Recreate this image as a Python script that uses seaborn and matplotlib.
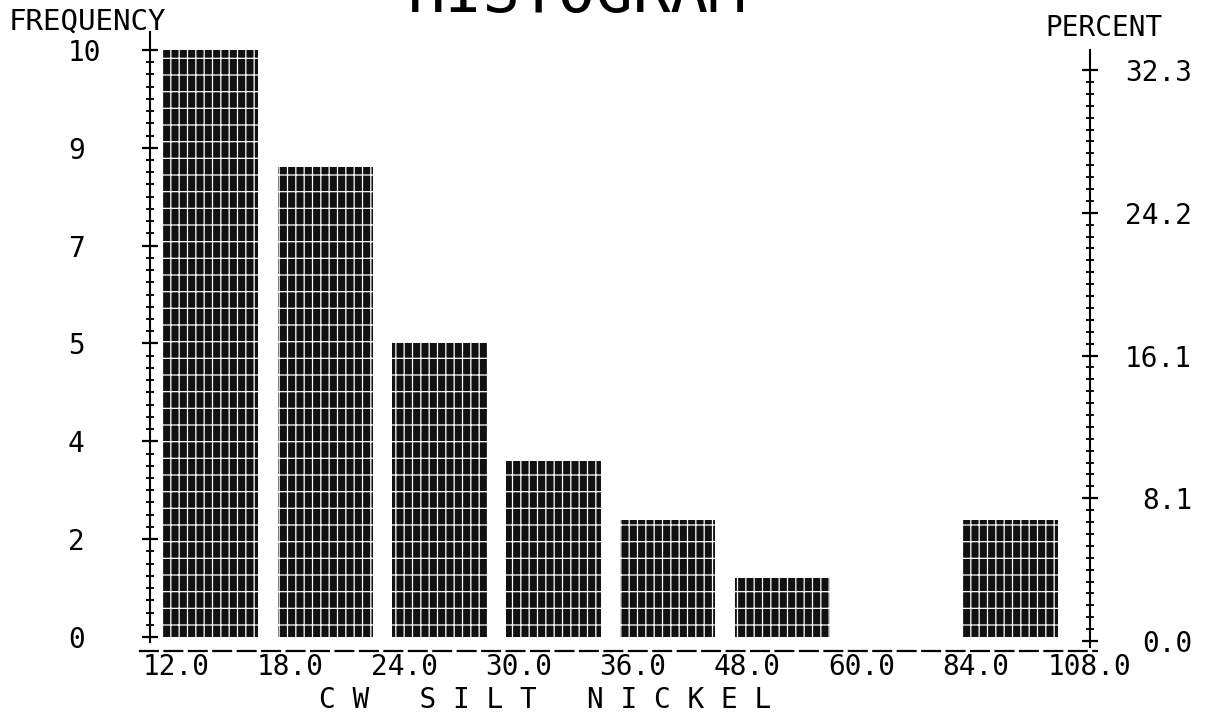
import numpy as np
import matplotlib.pyplot as plt
import seaborn as sns

# histogram of CW silt nickel
bin_edges = ['12.0', '18.0', '24.0', '30.0', '36.0', '48.0', '60.0', '84.0', '108.0']
bin_names = ['12-18', '18-24', '24-30', '30-36', '36-48', '48-60', '60-84', '84-108']
counts = [10, 8, 5, 3, 2, 1, 0, 2]
freq_tick_labels = ['0', '2', '4', '5', '7', '9', '10']
pct_tick_labels = ['0.0', '8.1', '16.1', '24.2', '32.3']

sns.set_style('white')
plt.rcParams['font.family'] = ['DejaVu Sans Mono']
plt.rcParams['text.color'] = 'black'
plt.rcParams['xtick.color'] = 'black'
plt.rcParams['ytick.color'] = 'black'
plt.rcParams['hatch.color'] = 'white'
plt.rcParams['hatch.linewidth'] = 0.9

W, H = 1210, 717
fig = plt.figure(figsize=(W / 100, H / 100), dpi=100)
ax = fig.add_axes([150 / W, 1 - 651 / H, 940 / W, 621 / H])

sns.barplot(
    x=bin_names,
    y=counts,
    order=bin_names,
    color='#111111',
    saturation=1,
    width=0.83,
    edgecolor='white',
    linewidth=0,
    hatch='-||',
    ax=ax
)

# plotter puts the bin edge label a bit right of the bar's left side
off = 0.305
ax.set_xlim(-off - 0.228, len(bin_names) - off)
ax.set_ylim(-0.2385, 10.34)
ax.set_xticks(np.arange(len(bin_edges)) - off, bin_edges)
ax.tick_params(axis='x', length=0, pad=1.5, labelsize=20)
ax.set_xlabel('')
ax.set_ylabel('')

ax.set_yticks(np.linspace(0, max(counts), len(freq_tick_labels)), freq_tick_labels)
ax.set_yticks(np.linspace(0, max(counts), 49), minor=True)
ax.tick_params(axis='y', which='major', left=True, direction='inout',
               length=11.5, width=1.6, pad=53.3, labelsize=20)
ax.tick_params(axis='y', which='minor', left=True, direction='inout',
               length=6, width=1.3)
for t in ax.get_yticklabels():
    t.set_ha('left')

ax.spines['top'].set_visible(False)
ax.spines['right'].set_visible(False)
ax.spines['left'].set_bounds(-0.08, 10.3)
ax.spines['left'].set_linewidth(1.5)
ax.spines['left'].set_color('black')
ax.spines['bottom'].set_bounds(-off - 0.315, len(bin_names) - off + 0.06)
ax.spines['bottom'].set_linestyle((0, (8, 3)))
ax.spines['bottom'].set_linewidth(1.6)
ax.spines['bottom'].set_color('black')

# percent axis on the right
total = sum(counts)
top_pct = 100 * max(counts) / total
ax2 = ax.twinx()
ax2.set_ylim(-0.565, 34.52)
ax2.set_yticks(np.linspace(0, top_pct, len(pct_tick_labels)), pct_tick_labels)
ax2.set_yticks(np.linspace(0, top_pct, 49), minor=True)
ax2.tick_params(axis='y', which='major', right=True, direction='inout',
                length=11.5, width=1.6, pad=67.7, labelsize=20)
ax2.tick_params(axis='y', which='minor', right=True, direction='inout',
                length=6, width=1.3)
for t in ax2.get_yticklabels():
    t.set_ha('right')
for s in ['top', 'left', 'bottom']:
    ax2.spines[s].set_visible(False)
ax2.spines['right'].set_bounds(-0.34, 33.39)
ax2.spines['right'].set_linewidth(1.5)
ax2.spines['right'].set_color('black')

fig.text(408 / W, 1 - 12 / H, 'HISTOGRAM', fontsize=45, va='baseline', ha='left')
fig.text(9 / W, 1 - 22 / H, 'FREQUENCY', fontsize=21, va='center', ha='left')
fig.text(1045 / W, 1 - 28 / H, 'PERCENT', fontsize=20, va='center', ha='left')
fig.text(545 / W, 1 - 700 / H, 'C W   S I L T   N I C K E L', fontsize=20,
         va='center', ha='center')

fig.savefig('out.png', dpi=100)
